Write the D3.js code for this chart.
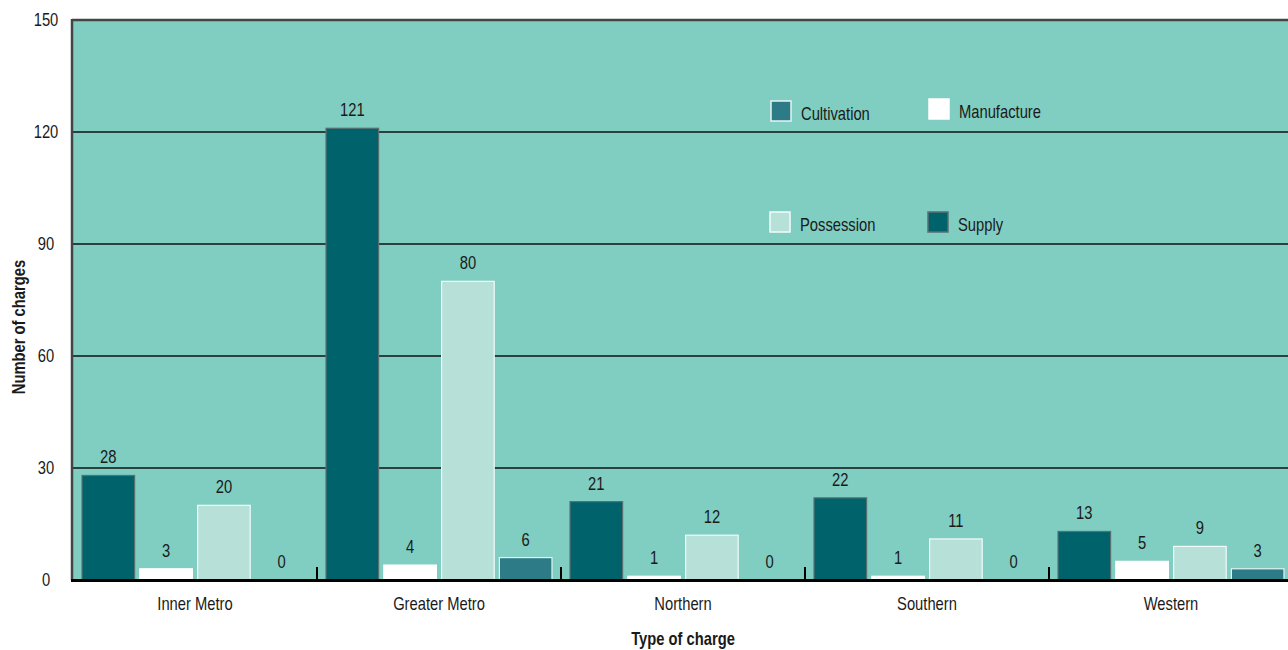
<!DOCTYPE html>
<html>
<head>
<meta charset="utf-8">
<script src="https://cdn.jsdelivr.net/npm/d3@7"></script>
<style>
html, body { margin: 0; padding: 0; background: #ffffff; }
svg { display: block; }
text { font-family: "Liberation Sans", Arial, sans-serif; fill: #1a1a1a; }
</style>
</head>
<body>
<svg id="chart" width="1288" height="650"></svg>
<script>
const regions = ["Inner Metro", "Greater Metro", "Northern", "Southern", "Western"];
const seriesOrder = ["Supply", "Manufacture", "Possession", "Cultivation"];
const supply = [28, 121, 21, 22, 13];
const manufacture = [3, 4, 1, 1, 5];
const possession = [20, 80, 12, 11, 9];
const cultivation = [0, 6, 0, 0, 3];
const yTicks = [0, 30, 60, 90, 120, 150];
const legendOrder = ["Cultivation", "Manufacture", "Possession", "Supply"];

const values = { Supply: supply, Manufacture: manufacture, Possession: possession, Cultivation: cultivation };
const fills = { Supply: "#00636c", Manufacture: "#ffffff", Possession: "#b6e0d8", Cultivation: "#2e7b88" };
const strokes = { Supply: "#5a6f72", Manufacture: "#ffffff", Possession: "#f2fbf9", Cultivation: "#e6f4f2" };

const NARROW = 0.82;
const FS = 18;

const svg = d3.select("#chart");
const L = 73, R = 1293, T = 20, B = 580;

const x0 = d3.scaleBand().domain(regions).range([L, R]).padding(0);
const x1 = d3.scaleBand().domain(seriesOrder).range([0, x0.bandwidth()]).paddingInner(0.09).paddingOuter(0.156);
const y = d3.scaleLinear().domain([0, 150]).range([B, T]);

function narrow(sel, fx, fy, extra) {
  return sel.attr("x", 0).attr("y", 0)
    .attr("transform", (d, i) => `translate(${fx(d, i)},${fy(d, i)})${extra || ""} scale(${NARROW},1)`)
    .attr("font-size", FS);
}

// plot background
svg.append("rect").attr("x", L).attr("y", T).attr("width", R - L).attr("height", B - T).attr("fill", "#80cdc1");

// gridlines
svg.append("g").selectAll("line").data(yTicks.filter(d => d > 0 && d < 150)).join("line")
  .attr("x1", L).attr("x2", R).attr("y1", d => y(d)).attr("y2", d => y(d))
  .attr("stroke", "#111").attr("stroke-width", 1.3);

// top border
svg.append("line").attr("x1", L - 1).attr("x2", R).attr("y1", y(150)).attr("y2", y(150))
  .attr("stroke", "#444").attr("stroke-width", 2.5);

// bars
const groups = svg.append("g").selectAll("g").data(regions).join("g")
  .attr("transform", d => `translate(${x0(d)},0)`);

groups.selectAll("rect").data((d, i) => seriesOrder.map(s => ({ s, v: values[s][i] }))).join("rect")
  .attr("x", d => x1(d.s))
  .attr("y", d => y(d.v))
  .attr("width", x1.bandwidth())
  .attr("height", d => B - y(d.v))
  .attr("fill", d => fills[d.s])
  .attr("stroke", d => d.v > 0 ? strokes[d.s] : "none")
  .attr("stroke-width", 1.2);

narrow(groups.selectAll("text").data((d, i) => seriesOrder.map(s => ({ s, v: values[s][i] }))).join("text"),
  d => x1(d.s) + x1.bandwidth() / 2, d => y(d.v) - 12)
  .attr("text-anchor", "middle")
  .text(d => d.v);

// left axis line
svg.append("line").attr("x1", L - 1).attr("x2", L - 1).attr("y1", T - 1).attr("y2", B)
  .attr("stroke", "#444").attr("stroke-width", 2.5);

// bottom axis
svg.append("line").attr("x1", L - 2).attr("x2", R).attr("y1", B + 0.5).attr("y2", B + 0.5)
  .attr("stroke", "#000").attr("stroke-width", 3);

// group separator ticks
svg.append("g").selectAll("line").data(regions.slice(1)).join("line")
  .attr("x1", d => x0(d)).attr("x2", d => x0(d))
  .attr("y1", B - 13).attr("y2", B)
  .attr("stroke", "#000").attr("stroke-width", 2);

// y tick labels
narrow(svg.append("g").selectAll("text").data(yTicks).join("text"), () => 46, d => y(d) + 6)
  .attr("text-anchor", "middle")
  .text(d => d);

// category labels
narrow(svg.append("g").selectAll("text").data(regions).join("text"),
  d => x0(d) + x0.bandwidth() / 2, () => 610)
  .attr("text-anchor", "middle")
  .text(d => d);

// axis titles
narrow(svg.append("text"), () => 683, () => 645)
  .attr("text-anchor", "middle").attr("font-weight", "bold").text("Type of charge");
narrow(svg.append("text"), () => 25, () => 327, " rotate(-90)")
  .attr("text-anchor", "middle").attr("font-weight", "bold").text("Number of charges");

// legend
const legendPos = {
  Cultivation: { x: 771, y: 101 },
  Manufacture: { x: 929, y: 99 },
  Possession: { x: 770, y: 212 },
  Supply: { x: 928, y: 212 }
};
const leg = svg.append("g").selectAll("g").data(legendOrder).join("g")
  .attr("transform", d => `translate(${legendPos[d].x},${legendPos[d].y})`);
leg.append("rect").attr("width", 20).attr("height", 20)
  .attr("fill", d => fills[d]).attr("stroke", d => strokes[d]).attr("stroke-width", 1.5);
narrow(leg.append("text"), () => 30, () => 19).text(d => d);
</script>
</body>
</html>
